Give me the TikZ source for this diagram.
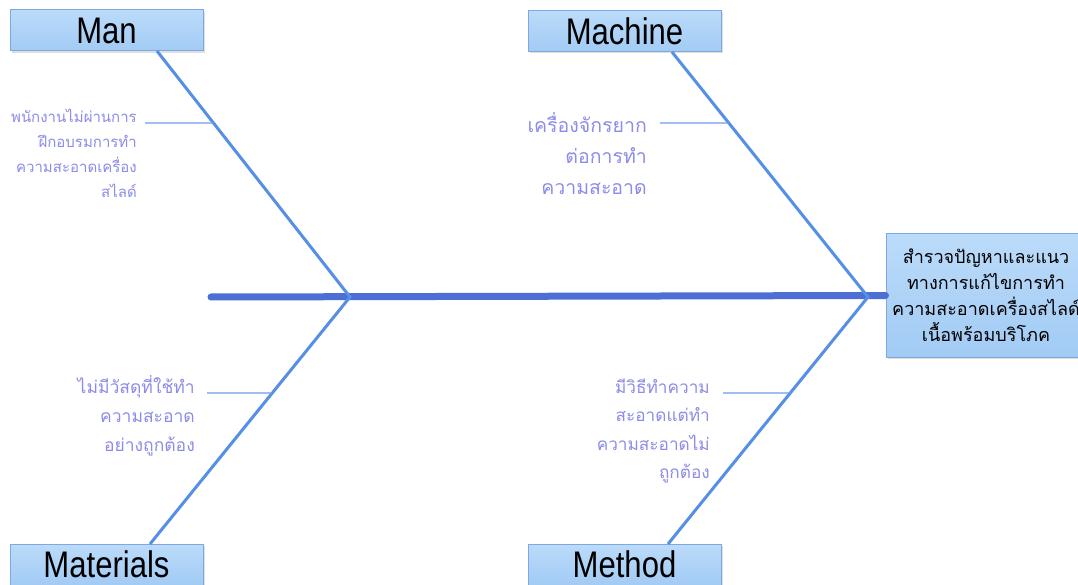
\documentclass[tikz,border=0pt]{standalone}
\usepackage{fontspec}
\setmainfont{Liberation Sans}
\newfontfamily\thaifont[Script=Thai]{Loma}
\usetikzlibrary{calc,shadows}
\definecolor{boxtop}{HTML}{BBDBFA}
\definecolor{boxbot}{HTML}{A2CBF4}
\definecolor{boxline}{HTML}{7FA8DE}
\definecolor{spinecol}{HTML}{4C6FD6}
\definecolor{bonecol}{HTML}{5590E6}
\definecolor{subcol}{HTML}{6E9EE8}
\definecolor{causecol}{HTML}{8C8CEA}
\newcommand\catlabel[1]{\scalebox{0.84}[1]{#1}}
\begin{document}
\begin{tikzpicture}[x=1pt,y=-1pt,
  catbox/.style={draw=boxline, line width=1pt, top color=boxtop, bottom color=boxbot,
    minimum width=193pt, minimum height=41pt, inner sep=0pt,
    font=\fontsize{37}{37}\selectfont,
    drop shadow={shadow xshift=1.5pt, shadow yshift=-2pt, opacity=0.25}},
  effectbox/.style={draw=boxline, line width=1pt, top color=boxtop, bottom color=boxbot,
    minimum width=200pt, minimum height=123pt, inner sep=0pt, align=center,
    drop shadow={shadow xshift=1.5pt, shadow yshift=-2pt, opacity=0.25}},
  cause/.style={align=right, inner sep=0pt, text=causecol, anchor=east},
  spine/.style={draw=spinecol, line width=7pt, line cap=round},
  bone/.style={draw=bonecol, line width=3pt},
  subbone/.style={draw=subcol, line width=1.3pt}
]
\useasboundingbox (0,0) rectangle (1078,585);
\fill[white] (0,0) rectangle (1078,585);

% category boxes
\node[catbox] (man) at (106.5,30.5) {\catlabel{Man}};
\node[catbox] (machine) at (624.5,31) {\catlabel{Machine}};
\node[catbox] (materials) at (106.5,564.5) {\catlabel{Materials}};
\node[catbox] (method) at (624.5,564.5) {\catlabel{Method}};

% effect box
\node[effectbox, font=\thaifont\fontsize{18}{26}\selectfont] (effect) at (986,295.5)
  {สำรวจปัญหาและแนว\\ทางการแก้ไขการทำ\\ความสะอาดเครื่องสไลด์\\เนื้อพร้อมบริโภค};

% key points
\coordinate (tail) at (211,297);
\coordinate (j1) at (350,297);
\coordinate (j2) at (868,297);
\coordinate (manb) at (157,51);
\coordinate (macb) at (672,52);
\coordinate (matb) at (150,544);
\coordinate (metb) at (668,544);

% spine and bones
\draw[spine] (tail) -- (effect.west);
\draw[bone] (manb) -- (j1) -- (matb);
\draw[bone] (macb) -- (j2) -- (metb);

% sub-bone ends
\coordinate (s1) at (145,123);
\coordinate (s2) at (660,123);
\coordinate (s3) at (207,393);
\coordinate (s4) at (723,393);
\draw[subbone] (s1) -- ($(manb)!0.293!(j1)$);
\draw[subbone] (s2) -- ($(macb)!0.29!(j2)$);
\draw[subbone] (s3) -- ($(j1)!0.389!(matb)$);
\draw[subbone] (s4) -- ($(j2)!0.389!(metb)$);

% causes
\node[cause, font=\thaifont\fontsize{15}{25}\selectfont] (c1) at (137,153)
  {พนักงานไม่ผ่านการ\\ฝึกอบรมการทำ\\ความสะอาดเครื่อง\\สไลด์};
\node[cause, font=\thaifont\fontsize{19.5}{31}\selectfont] (c2) at (647,154)
  {เครื่องจักรยาก\\ต่อการทำ\\ความสะอาด};
\node[cause, font=\thaifont\fontsize{17.5}{29}\selectfont] (c3) at (195,416)
  {ไม่มีวัสดุที่ใช้ทำ\\ความสะอาด\\อย่างถูกต้อง};
\node[cause, font=\thaifont\fontsize{17.2}{28.5}\selectfont] (c4) at (710,431)
  {มีวิธีทำความ\\สะอาดแต่ทำ\\ความสะอาดไม่\\ถูกต้อง};
\end{tikzpicture}
\end{document}
